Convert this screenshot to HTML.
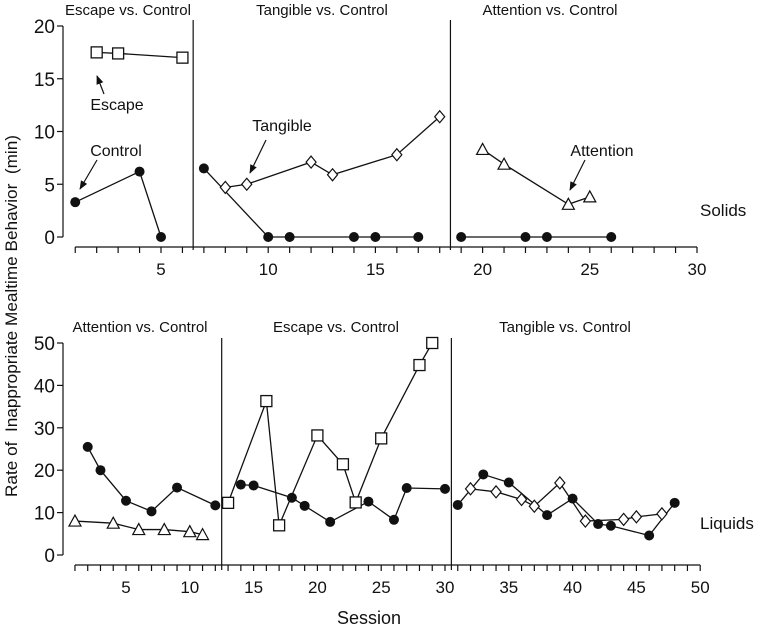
<!DOCTYPE html>
<html><head><meta charset="utf-8"><style>
html,body{margin:0;padding:0;background:#fff;}
svg{display:block;font-family:"Liberation Sans",Arial,sans-serif;}
text{fill:#111;}
</style></head><body>
<svg id="chart" width="762" height="627" viewBox="0 0 762 627">
<defs><marker id="ah" viewBox="0 0 10 10" refX="9" refY="5" markerWidth="9" markerHeight="9" markerUnits="userSpaceOnUse" orient="auto"><path d="M0,1 L10,5 L0,9 z" fill="#111"/></marker></defs>
<g id="g"></g>
</svg>
<script>
// Top panel (Solids) data
const topCtrlA=[[1,3.3],[4,6.2],[5,0]];
const topCtrlB=[[7,6.5],[10,0],[11,0],[14,0],[15,0],[17,0]];
const topCtrlC=[[19,0],[22,0],[23,0],[26,0]];
const topEscape=[[2,17.5],[3,17.4],[6,17.0]];
const topTangible=[[8,4.7],[9,5.0],[12,7.1],[13,5.9],[16,7.8],[18,11.4]];
const topAttention=[[20,8.3],[21,6.9],[24,3.1],[25,3.8]];
const topYTicks=[0,5,10,15,20];
const topXTicks=[5,10,15,20,25,30];
// Bottom panel (Liquids) data
const botAttention=[[1,8],[4,7.5],[6,6],[8,6],[10,5.5],[11,4.8]];
const botCtrlA=[[2,25.5],[3,20],[5,12.8],[7,10.3],[9,15.9],[12,11.7]];
const botCtrlB=[[14,16.6],[15,16.4],[18,13.5],[19,11.6],[21,7.8],[24,12.6],[26,8.3],[27,15.8],[30,15.6]];
const botCtrlC=[[31,11.8],[33,19],[35,17.1],[38,9.4],[40,13.3],[42,7.3],[43,6.9],[46,4.6],[48,12.3]];
const botEscape=[[13,12.3],[16,36.3],[17,7],[20,28.2],[22,21.4],[23,12.4],[25,27.5],[28,44.8],[29,50]];
const botTangible=[[32,15.6],[34,14.9],[36,13.1],[37,11.5],[39,17],[41,8],[44,8.4],[45,9],[47,9.7]];
const botYTicks=[0,10,20,30,40,50];
const botXTicks=[5,10,15,20,25,30,35,40,45,50];

const NS="http://www.w3.org/2000/svg";
const G=document.getElementById('g');
function mk(tag,attrs,parent){const e=document.createElementNS(NS,tag);for(const k in attrs)e.setAttribute(k,attrs[k]);(parent||G).appendChild(e);return e;}

const topX=s=>161+(s-5)*21.44, topY=v=>237-v*(211/20);
const botX=s=>126+(s-5)*12.76, botY=v=>555-v*(212/50);

function series(data,X,Y,shape,name){
  const grp=mk('g',{});
  
  
  const pts=data.map(d=>X(d[0])+','+Y(d[1])).join(' ');
  mk('polyline',{points:pts,fill:'none',stroke:'#111','stroke-width':1.3},grp);
  data.forEach(d=>{
    const x=X(d[0]),y=Y(d[1]);let m;
    if(shape==='circle')m=mk('circle',{cx:x,cy:y,r:5,fill:'#111'},grp);
    else if(shape==='square')m=mk('rect',{x:x-5.5,y:y-5.5,width:11,height:11,fill:'#fff',stroke:'#111','stroke-width':1.3},grp);
    else if(shape==='diamond')m=mk('polygon',{points:`${x},${y-6} ${x+5},${y} ${x},${y+6} ${x-5},${y}`,fill:'#fff',stroke:'#111','stroke-width':1.2},grp);
    else m=mk('polygon',{points:`${x},${y-6} ${x+6},${y+5} ${x-6},${y+5}`,fill:'#fff',stroke:'#111','stroke-width':1.2},grp);
    
    
  });
}
function axes(X,Y,yt,xt,xmax,axisY,prefix){
  const ax=mk('g',{stroke:'#111','stroke-width':1.2,fill:'none'});
  
  
  mk('line',{x1:63,y1:Y(yt[yt.length-1]),x2:63,y2:Y(0)},ax);
  yt.forEach(v=>{mk('line',{x1:57,y1:Y(v),x2:63,y2:Y(v)},ax);
    const t=mk('text',{x:55,y:Y(v)+7,'text-anchor':'end','font-size':19,stroke:'none'});t.textContent=v;
    
    });
  mk('line',{x1:X(1),y1:axisY,x2:X(xmax),y2:axisY},ax);
  for(let s=1;s<=xmax;s++){mk('line',{x1:X(s),y1:axisY,x2:X(s),y2:axisY+6},ax);}
  xt.forEach(v=>{const t=mk('text',{x:X(v),y:axisY+28,'text-anchor':'middle','font-size':17,stroke:'none'});t.textContent=v;
    
    });
}
function txt(x,y,s,size,name,anchor){const t=mk('text',{x:x,y:y,'font-size':size,'text-anchor':anchor||'middle'});t.textContent=s;
  
  return t;}
function arrow(x1,y1,x2,y2,name){const l=mk('line',{x1,y1,x2,y2,stroke:'#111','stroke-width':1.2,'marker-end':'url(#ah)'});
  
  }
function vline(x,y1,y2,name){const l=mk('line',{x1:x,y1,x2:x,y2,stroke:'#111','stroke-width':1.2});
  
  }

// Top panel
axes(topX,topY,topYTicks,topXTicks,30,247,'solids');
vline(topX(6.5),20,250,'solids-phase-line-1');
vline(topX(18.5),20,250,'solids-phase-line-2');
txt(128,15,'Escape vs. Control',15,'solids-phase-title-escape');
txt(322,15,'Tangible vs. Control',15,'solids-phase-title-tangible');
txt(550,15,'Attention vs. Control',15,'solids-phase-title-attention');
series(topCtrlA,topX,topY,'circle','solids-control-series-1');
series(topCtrlB,topX,topY,'circle','solids-control-series-2');
series(topCtrlC,topX,topY,'circle','solids-control-series-3');
series(topEscape,topX,topY,'square','solids-escape-series');
series(topTangible,topX,topY,'diamond','solids-tangible-series');
series(topAttention,topX,topY,'triangle','solids-attention-series');
txt(117,110,'Escape',16,'escape-annotation');arrow(104,94,97,76,'escape-arrow');
txt(116,156,'Control',16,'control-annotation');arrow(97,160,80,189,'control-arrow');
txt(282,131,'Tangible',16,'tangible-annotation');arrow(266,140,250,173,'tangible-arrow');
txt(602,156,'Attention',16,'attention-annotation');arrow(585,160,570,190,'attention-arrow');
txt(700,216,'Solids',17,'solids-label','start');

// Bottom panel
axes(botX,botY,botYTicks,botXTicks,50,565,'liquids');
vline(botX(12.5),338,570,'liquids-phase-line-1');
vline(botX(30.5),338,570,'liquids-phase-line-2');
txt(140,332,'Attention vs. Control',15,'liquids-phase-title-attention');
txt(336,332,'Escape vs. Control',15,'liquids-phase-title-escape');
txt(565,332,'Tangible vs. Control',15,'liquids-phase-title-tangible');
series(botAttention,botX,botY,'triangle','liquids-attention-series');
series(botCtrlA,botX,botY,'circle','liquids-control-series-1');
series(botCtrlB,botX,botY,'circle','liquids-control-series-2');
series(botCtrlC,botX,botY,'circle','liquids-control-series-3');
series(botEscape,botX,botY,'square','liquids-escape-series');
series(botTangible,botX,botY,'diamond','liquids-tangible-series');
txt(700,529,'Liquids',17,'liquids-label','start');

txt(369,624,'Session',18,'x-axis-title');
const yt=txt(0,0,'Rate of  Inappropriate Mealtime Behavior  (min)',17,'y-axis-title');
yt.setAttribute('transform','translate(17,316) rotate(-90)');
yt.setAttribute('textLength','362');
yt.setAttribute('lengthAdjust','spacingAndGlyphs');
yt.style.whiteSpace='pre';
</script>
</body></html>
